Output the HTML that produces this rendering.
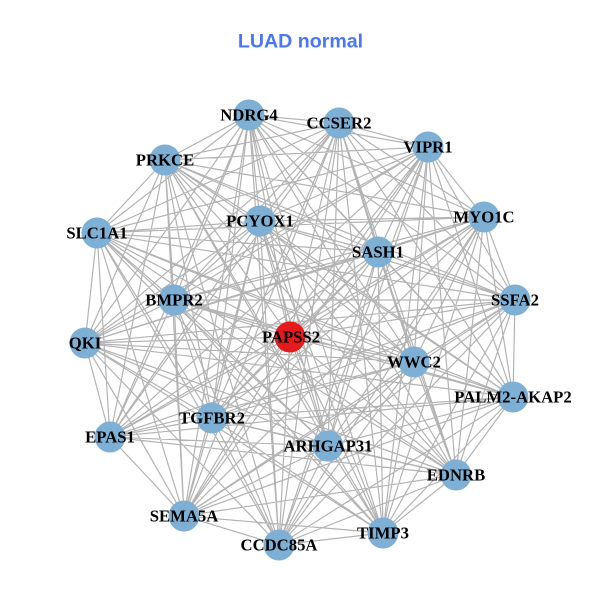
<!DOCTYPE html>
<html><head><meta charset="utf-8"><style>
html,body{margin:0;padding:0;background:#fff;width:600px;height:600px;overflow:hidden}
svg{display:block}
.t{font-family:"Liberation Serif",serif;font-weight:bold;font-size:16.7px;text-anchor:middle;fill:#000}
circle{fill:#7eb0d5}
</style></head><body>
<svg width="600" height="600" viewBox="0 0 600 600">
<text x="300.5" y="47.5" style="font-family:'Liberation Sans',sans-serif;font-weight:bold;font-size:19.6px;text-anchor:middle;fill:#4a76fa">LUAD normal</text>
<path fill="none" stroke="#b3b3b3" stroke-width="1.2" d="
M249 115L339 123M249 115L428 147M249 115L484 217M249 115L515 300M249 115L513 397M249 115L456 475M249 115L383 533M249 115L279 545M249 115L184 516M249 115L110 437M249 115L85 343M249 115L97 233M249 115L165 160M249 115L260 221M249 115L378 252M249 115L174 300M249 115L290 337M249 115L414 362M249 115L212 418M249 115L328 446
M339 123L428 147M339 123L484 217M339 123L515 300M339 123L513 397M339 123L456 475M339 123L383 533M339 123L279 545M339 123L184 516M339 123L110 437M339 123L85 343M339 123L97 233M339 123L165 160M339 123L260 221M339 123L378 252M339 123L174 300M339 123L290 337M339 123L414 362M339 123L212 418M339 123L328 446
M428 147L484 217M428 147L515 300M428 147L513 397M428 147L456 475M428 147L383 533M428 147L279 545M428 147L184 516M428 147L110 437M428 147L85 343M428 147L97 233M428 147L165 160M428 147L260 221M428 147L378 252M428 147L174 300M428 147L290 337M428 147L414 362M428 147L212 418M428 147L328 446
M484 217L515 300M484 217L513 397M484 217L456 475M484 217L383 533M484 217L279 545M484 217L184 516M484 217L110 437M484 217L85 343M484 217L97 233M484 217L165 160M484 217L260 221M484 217L378 252M484 217L174 300M484 217L290 337M484 217L414 362M484 217L212 418M484 217L328 446
M515 300L513 397M515 300L456 475M515 300L383 533M515 300L279 545M515 300L184 516M515 300L110 437M515 300L85 343M515 300L97 233M515 300L165 160M515 300L260 221M515 300L378 252M515 300L174 300M515 300L290 337M515 300L414 362M515 300L212 418M515 300L328 446
M513 397L456 475M513 397L383 533M513 397L279 545M513 397L184 516M513 397L110 437M513 397L85 343M513 397L97 233M513 397L165 160M513 397L260 221M513 397L378 252M513 397L174 300M513 397L290 337M513 397L414 362M513 397L212 418M513 397L328 446
M456 475L383 533M456 475L279 545M456 475L184 516M456 475L110 437M456 475L85 343M456 475L97 233M456 475L165 160M456 475L260 221M456 475L378 252M456 475L174 300M456 475L290 337M456 475L414 362M456 475L212 418M456 475L328 446
M383 533L279 545M383 533L184 516M383 533L85 343M383 533L97 233M383 533L165 160M383 533L260 221M383 533L378 252M383 533L174 300M383 533L290 337M383 533L414 362M383 533L212 418M383 533L328 446
M279 545L184 516M279 545L85 343M279 545L97 233M279 545L165 160M279 545L260 221M279 545L378 252M279 545L174 300M279 545L290 337M279 545L414 362M279 545L212 418M279 545L328 446
M184 516L110 437M184 516L85 343M184 516L97 233M184 516L165 160M184 516L260 221M184 516L378 252M184 516L174 300M184 516L290 337M184 516L414 362M184 516L212 418M184 516L328 446
M110 437L85 343M110 437L97 233M110 437L165 160M110 437L260 221M110 437L378 252M110 437L174 300M110 437L290 337M110 437L414 362M110 437L212 418M110 437L328 446
M85 343L97 233M85 343L165 160M85 343L260 221M85 343L378 252M85 343L174 300M85 343L290 337M85 343L414 362M85 343L212 418M85 343L328 446
M97 233L165 160M97 233L260 221M97 233L378 252M97 233L174 300M97 233L290 337M97 233L414 362M97 233L212 418M97 233L328 446
M165 160L260 221M165 160L378 252M165 160L174 300M165 160L290 337M165 160L414 362M165 160L212 418M165 160L328 446
M260 221L378 252M260 221L174 300M260 221L290 337M260 221L414 362M260 221L212 418M260 221L328 446
M378 252L174 300M378 252L290 337M378 252L414 362M378 252L212 418M378 252L328 446
M174 300L290 337M174 300L414 362M174 300L212 418M174 300L328 446
M290 337L414 362M290 337L212 418M290 337L328 446
M414 362L212 418M414 362L328 446
M212 418L328 446
"/>
<circle cx="249" cy="115" r="15.5"/>
<circle cx="339" cy="123" r="15.5"/>
<circle cx="428" cy="147" r="15.5"/>
<circle cx="484" cy="217" r="15.5"/>
<circle cx="515" cy="300" r="15.5"/>
<circle cx="513" cy="397" r="15.5"/>
<circle cx="456" cy="475" r="15.5"/>
<circle cx="383" cy="533" r="15.5"/>
<circle cx="279" cy="545" r="15.5"/>
<circle cx="184" cy="516" r="15.5"/>
<circle cx="110" cy="437" r="15.5"/>
<circle cx="85" cy="343" r="15.5"/>
<circle cx="97" cy="233" r="15.5"/>
<circle cx="165" cy="160" r="15.5"/>
<circle cx="260" cy="221" r="15.5"/>
<circle cx="378" cy="252" r="15.5"/>
<circle cx="174" cy="300" r="15.5"/>
<circle cx="290" cy="337" r="15.5" style="fill:#e41a1c"/>
<circle cx="414" cy="362" r="15.5"/>
<circle cx="212" cy="418" r="15.5"/>
<circle cx="328" cy="446" r="15.5"/>
<text class="t" x="249" y="120.5">NDRG4</text>
<text class="t" x="339" y="128.5">CCSER2</text>
<text class="t" x="428" y="152.5">VIPR1</text>
<text class="t" x="484" y="222.5">MYO1C</text>
<text class="t" x="515" y="305.5">SSFA2</text>
<text class="t" x="513" y="402.5">PALM2-AKAP2</text>
<text class="t" x="456" y="480.5">EDNRB</text>
<text class="t" x="383" y="538.5">TIMP3</text>
<text class="t" x="279" y="550.5">CCDC85A</text>
<text class="t" x="184" y="521.5">SEMA5A</text>
<text class="t" x="110" y="442.5">EPAS1</text>
<text class="t" x="85" y="348.5">QKI</text>
<text class="t" x="97" y="238.5">SLC1A1</text>
<text class="t" x="165" y="165.5">PRKCE</text>
<text class="t" x="260" y="226.5">PCYOX1</text>
<text class="t" x="378" y="257.5">SASH1</text>
<text class="t" x="174" y="305.5">BMPR2</text>
<text class="t" x="291" y="342.5">PAPSS2</text>
<text class="t" x="414" y="367.5">WWC2</text>
<text class="t" x="212" y="423.5">TGFBR2</text>
<text class="t" x="328" y="451.5">ARHGAP31</text>
</svg>
</body></html>
